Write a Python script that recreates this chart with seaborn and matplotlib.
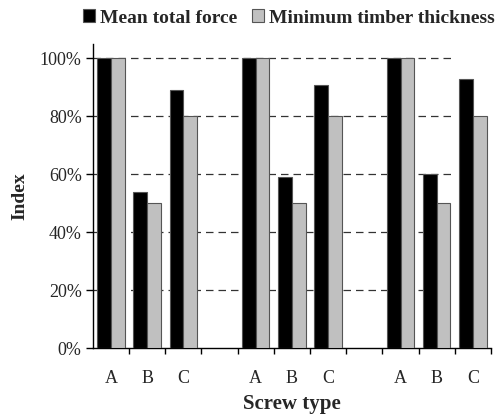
import pandas as pd
import matplotlib
matplotlib.use("Agg")
import matplotlib.pyplot as plt
import seaborn as sns
from matplotlib.ticker import FixedLocator, PercentFormatter

# Data; blank slots separate the three groups
slots = ["A1", "B1", "C1", "gap1", "A2", "B2", "C2", "gap2", "A3", "B3", "C3"]
tick_labels = ["A", "B", "C", "", "A", "B", "C", "", "A", "B", "C"]
mean_total_force = [100, 54, 89, None, 100, 59, 91, None, 100, 60, 93]
min_timber_thickness = [100, 50, 80, None, 100, 50, 80, None, 100, 50, 80]
series = ["Mean total force", "Minimum timber thickness"]

df = pd.DataFrame({
    "slot": slots * 2,
    "series": [series[0]] * len(slots) + [series[1]] * len(slots),
    "value": mean_total_force + min_timber_thickness,
}).dropna()

sns.set_style("white")
plt.rcParams["font.family"] = ["Liberation Serif", "DejaVu Serif"]

fig = plt.figure(figsize=(4.99, 4.15), dpi=100)
ax = fig.add_axes([0.186, 0.161, 0.798, 0.733])

sns.barplot(data=df, x="slot", y="value", hue="series", order=slots,
            hue_order=series, palette=["#000000", "#c0c0c0"], width=0.76,
            edgecolor="#555555", linewidth=0.8, ax=ax, zorder=3)

# dashed grid lines behind bars
for yv in [20, 40, 60, 80, 100]:
    ax.axhline(yv, xmin=0, xmax=0.905, color="#333333", linestyle=(0, (6, 4)),
               linewidth=0.9, zorder=1)

ax.set_xlim(-0.5, len(slots) - 0.5)
ax.set_ylim(0, 105)
ax.set_yticks([0, 20, 40, 60, 80, 100])
ax.yaxis.set_major_formatter(PercentFormatter(decimals=0))

ax.set_xticks(range(len(slots)))
ax.set_xticklabels(tick_labels)
ax.xaxis.set_minor_locator(FixedLocator([i + 0.5 for i in range(len(slots))]))
ax.tick_params(axis="x", which="major", length=0, pad=16, labelsize=13)
ax.tick_params(axis="x", which="minor", length=4, width=1, color="black",
               direction="out", bottom=True)
ax.tick_params(axis="y", length=5, width=1, color="black", direction="out",
               left=True, labelsize=13, pad=3)

for side in ["top", "right"]:
    ax.spines[side].set_visible(False)
for side in ["left", "bottom"]:
    ax.spines[side].set_color("black")
    ax.spines[side].set_linewidth(1)

ax.set_xlabel("Screw type", fontsize=15, fontweight="bold", labelpad=5)
ax.set_ylabel("Index", fontsize=14, fontweight="bold", labelpad=8)

handles, labels = ax.get_legend_handles_labels()
ax.get_legend().remove()
fig.legend(handles, labels, loc="center left",
           bbox_to_anchor=(83 / 499, 1 - 18 / 415), ncol=2, frameon=False,
           prop={"weight": "bold", "size": 14}, borderpad=0, borderaxespad=0,
           handlelength=0.62, handleheight=0.62, handletextpad=0.26,
           columnspacing=0.75)

plt.savefig("out.png", dpi=100)
plt.close()
